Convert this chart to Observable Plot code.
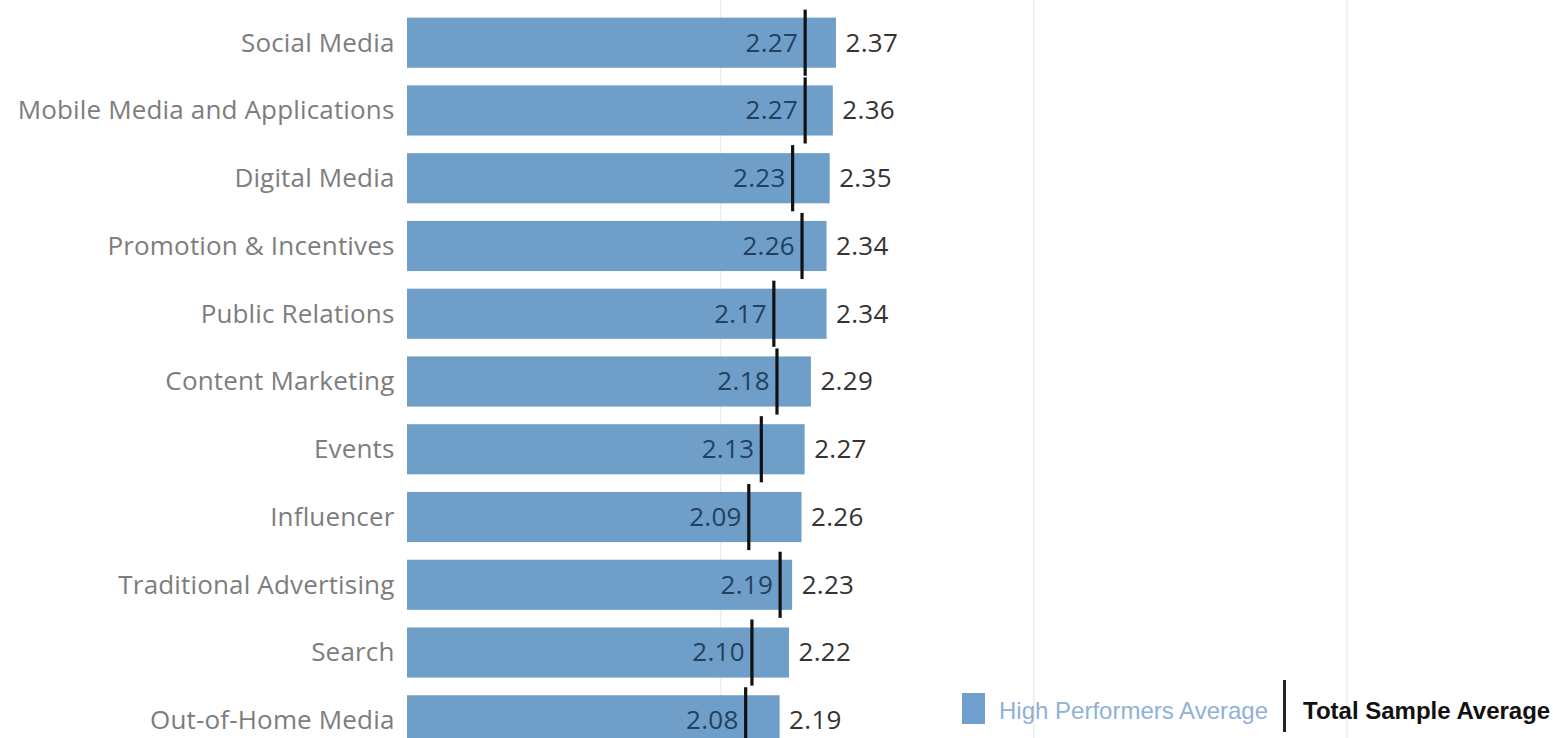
<!DOCTYPE html>
<html>
<head>
<meta charset="utf-8">
<script src="https://cdn.jsdelivr.net/npm/d3@7"></script>
<script src="https://cdn.jsdelivr.net/npm/@observablehq/plot@0.6"></script>
<style>
  html, body { margin: 0; padding: 0; background: #fff; overflow: hidden; }
  #wrap { position: relative; width: 1553px; height: 738px; overflow: hidden; }
  #legend { position: absolute; left: 962px; top: 680px; height: 52px; display: flex; align-items: center; font-family: "Liberation Sans", Arial, sans-serif; font-size: 24px; white-space: nowrap; }
  #legend .sw { width: 23px; height: 31px; background: #6f9fcc; margin-right: 14px; position: relative; top: 2px; }
  #legend .hp { color: #8fb1d8; position: relative; top: 5px; }
  #legend .sep { width: 3px; height: 52px; background: #222; margin-left: 15px; margin-right: 17px; }
  #legend .ts { color: #111; font-weight: bold; position: relative; top: 5px; }
  #chart svg text { letter-spacing: 0.3px; }
  #chart svg g[aria-label="y-axis tick label"] text { letter-spacing: 0.16px; }
</style>
</head>
<body>
<div id="wrap">
  <div id="chart"></div>
  <div id="legend"><div class="sw"></div><span class="hp">High Performers Average</span><div class="sep"></div><span class="ts">Total Sample Average</span></div>
</div>
<script>
const categories = ["Social Media", "Mobile Media and Applications", "Digital Media", "Promotion & Incentives", "Public Relations", "Content Marketing", "Events", "Influencer", "Traditional Advertising", "Search", "Out-of-Home Media"];
const highPerformers = [2.37, 2.36, 2.35, 2.34, 2.34, 2.29, 2.27, 2.26, 2.23, 2.22, 2.19];
const totalSample = [2.27, 2.27, 2.23, 2.26, 2.17, 2.18, 2.13, 2.09, 2.19, 2.10, 2.08];
const gridValues = [2, 3, 4];
const baseline = 1;

const data = categories.map((c, i) => ({cat: c, high: highPerformers[i], total: totalSample[i]}));

const chart = Plot.plot({
  width: 1553,
  height: 763,
  marginLeft: 407,
  marginRight: 0,
  marginTop: 0,
  marginBottom: 0,
  style: {fontFamily: "'Open Sans', sans-serif", background: "#fff"},
  x: {domain: [1, 4.66], axis: null},
  y: {domain: categories, padding: 0.26, round: false, axis: null},
  marks: [
    Plot.gridX(gridValues, {stroke: "#ececec", strokeOpacity: 1, strokeWidth: 1.5}),
    Plot.barX(data, {x1: baseline, x2: "high", y: "cat", fill: "#6f9fc8"}),
    Plot.tickX(data, {x: "total", y: "cat", stroke: "#111", strokeWidth: 3.2, insetTop: -8, insetBottom: -8}),
    Plot.text(data, {x: "total", y: "cat", text: d => d.total.toFixed(2), textAnchor: "end", dx: -7, fill: "#22405f", fontSize: 26}),
    Plot.text(data, {x: "high", y: "cat", text: d => d.high.toFixed(2), textAnchor: "start", dx: 9, fill: "#333", fontSize: 26}),
    Plot.axisY({tickSize: 0, tickPadding: 13, fontSize: 26, color: "#7d7d7d", label: null})
  ]
});
document.getElementById("chart").appendChild(chart);
</script>
</body>
</html>
